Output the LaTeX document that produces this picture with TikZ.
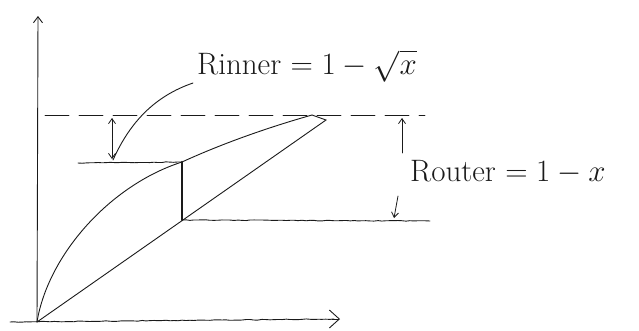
\documentclass[tikz,border=0pt]{standalone}
\usepackage{fix-cm}
\usepackage{amsmath, amssymb}
\usepackage{tikz}
\usepackage{xcolor}
\usetikzlibrary{
  positioning, arrows.meta, calc, decorations.pathmorphing,
}
\definecolor{cInk}   {HTML}{1A1A1A}

\begin{document}
\begin{tikzpicture}[x=1pt, y=-1pt, line cap=round,
    ink/.style={draw=cInk, line width=0.9pt},
    wobbly/.style={ink, decorate, decoration={random steps, segment length=4pt, amplitude=0.35pt}},
    dimarrow/.style={ink, line width=0.8pt, -{Straight Barb[length=5pt, width=7pt]}},
    label/.style={font=\fontsize{31}{35}\selectfont, text=cInk, inner sep=0pt, anchor=west},
  ]
  \useasboundingbox (0,0) rectangle (639,330);
  % axes
  \coordinate (origin) at (37,322);
  \coordinate (yTop)   at (38,16);
  \coordinate (xLeft)  at (10,322);
  \coordinate (xEnd)   at (340,319);
  \draw[ink, -{Straight Barb[length=6pt, width=9pt]}] (origin) -- (yTop);
  \draw[wobbly] (xLeft) -- ($(xEnd)+(-6,0)$);
  \draw[ink, -{Straight Barb[length=10pt, width=18pt]}] ($(xEnd)+(-8,0)$) -- (xEnd);
  % levels
  \coordinate (dashL)  at (45,115);
  \coordinate (dashR)  at (425,115);
  \coordinate (innerL) at (78,163);
  \coordinate (innerR) at (182,162);
  \coordinate (outerL) at (182,220);
  \coordinate (outerR) at (430,221);
  \coordinate (curveEnd) at (312,115);
  \coordinate (tip)    at (326,120);
  \draw[ink, dash pattern=on 24pt off 10pt] (dashL) -- (dashR);
  \draw[wobbly] (innerL) -- (innerR);
  \draw[wobbly] (outerL) -- (outerR);
  \draw[ink, line width=2.6pt] (innerR) -- (outerL);
  % inner curve and outer line
  \draw[ink] (origin) .. controls (48,255) and (110,185) .. (innerR)
             .. controls (230,140) and (280,124) .. (curveEnd);
  \draw[ink] (origin) -- (tip) -- (curveEnd);
  % labels
  \node[label] (rInner) at (197,66) {Rinner $= 1-\sqrt{x}$};
  \node[label] (rOuter) at (410,172) {Router $= 1-x$};
  \coordinate (leadEnd) at (113,160);
  \draw[ink] (leadEnd) .. controls (130,122) and (155,96) .. ($(rInner.west)+(-4,17)$);
  % gaps
  \coordinate (gapTop) at (112,118);
  \coordinate (gapBot) at (112,159);
  \draw[dimarrow] ($(gapTop)!0.5!(gapBot)$) -- (gapTop);
  \draw[dimarrow] ($(gapTop)!0.5!(gapBot)$) -- (gapBot);
  \coordinate (outTop) at (402,118);
  \coordinate (outBot) at (394,218);
  \draw[dimarrow] (402,153) -- (outTop);
  \draw[dimarrow] (398,196) -- (outBot);
\end{tikzpicture}
\end{document}
